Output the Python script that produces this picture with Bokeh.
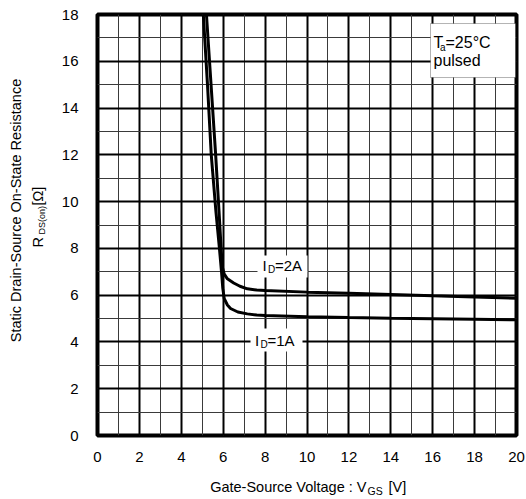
import math
from bokeh.plotting import figure
from bokeh.models import Range1d, SingleIntervalTicker, Label, BoxAnnotation
from bokeh.embed import file_html
from bokeh.resources import INLINE

# Data
vgs_2a = [5.2, 5.42, 5.64, 5.8, 5.9, 5.96, 6.05, 6.2, 6.5, 6.8, 7.15, 7.6, 8.0, 10, 12, 14, 16, 18, 20]
rds_2a = [18, 15, 12, 9.6, 8.0, 7.2, 6.9, 6.7, 6.52, 6.38, 6.27, 6.22, 6.2, 6.13, 6.08, 6.03, 5.97, 5.92, 5.87]

vgs_1a = [5.05, 5.25, 5.43, 5.65, 5.82, 5.92, 5.98, 6.05, 6.2, 6.35, 6.7, 7.15, 7.6, 8.0, 10, 12, 14, 16, 18, 20]
rds_1a = [18, 15, 12, 9.6, 8.0, 7.0, 6.3, 5.85, 5.58, 5.43, 5.28, 5.2, 5.15, 5.13, 5.08, 5.04, 5.01, 4.99, 4.97, 4.95]

x_ticks = list(range(0, 21, 2))
y_ticks = list(range(0, 19, 2))

FONT = "Liberation Sans"

p = figure(width=526, height=499, output_backend="svg", toolbar_location=None, title=None,
           x_range=Range1d(0, 20), y_range=Range1d(0, 18),
           min_border_left=97, min_border_right=10, min_border_top=14, min_border_bottom=64)
p.background_fill_color = "white"
p.border_fill_color = "white"
p.outline_line_color = "black"
p.outline_line_width = 4

p.xaxis.ticker = SingleIntervalTicker(interval=2, num_minor_ticks=2)
p.yaxis.ticker = SingleIntervalTicker(interval=2, num_minor_ticks=2)
for ax in (p.xaxis, p.yaxis):
    ax.axis_line_color = None
    ax.major_tick_line_color = None
    ax.minor_tick_line_color = None
    ax.major_label_text_font = FONT
    ax.major_label_text_font_size = "15px"
    ax.major_label_text_color = "black"
p.xaxis.major_label_standoff = 10
p.yaxis.major_label_standoff = 13

for g in (p.xgrid, p.ygrid):
    g.grid_line_color = "black"
    g.grid_line_width = 2
    g.minor_grid_line_color = "#3a3a3a"
    g.minor_grid_line_width = 1

p.line(vgs_2a, rds_2a, line_color="black", line_width=3)
p.line(vgs_1a, rds_1a, line_color="black", line_width=3)

def px2x(px):
    return (px - 97) / 20.95

def py2y(py):
    return (435 - py) / 23.39

def lab(text, px, py, size="15px", align="left", angle=0.0, place=None):
    l = Label(x=px2x(px), y=py2y(py), text=text, text_font=FONT, text_font_size=size,
              text_align=align, text_baseline="middle", text_color="black", angle=angle)
    if place is None:
        p.add_layout(l)
    else:
        p.add_layout(l, place)

# I_D labels with white boxes
p.add_layout(BoxAnnotation(left=px2x(257), right=px2x(307), top=py2y(255), bottom=py2y(277),
                           fill_color="white", fill_alpha=1, line_color=None))
lab("I", 262, 265)
lab("D", 267.5, 269, size="10px")
lab("=2A", 274.5, 265)

p.add_layout(BoxAnnotation(left=px2x(250), right=px2x(302), top=py2y(328), bottom=py2y(351),
                           fill_color="white", fill_alpha=1, line_color=None))
lab("I", 254.5, 340)
lab("D", 260, 344, size="10px")
lab("=1A", 267, 340)

# Ta box
p.add_layout(BoxAnnotation(left=px2x(430), right=px2x(515), top=py2y(23), bottom=py2y(77),
                           fill_color="white", fill_alpha=1, line_color="black", line_width=1))
lab("T", 433, 42, size="16px")
lab("a", 439.5, 47, size="10px")
lab("=25\u00b0C", 445, 42, size="16px")
lab("pulsed", 433, 60, size="16px")

# x axis title: side panels are used so that the texts are not clipped to the frame
lab("Gate-Source Voltage : V", 366, 487, size="14.5px", align="right", place="below")
lab(" [V]", 388, 487, size="14.5px", place="below")
lab("GS", 367, 491, size="10.5px", place="above")

# y axis title (rotated, in the left side panel)
lab("Static Drain-Source On-State Resistance", 15, 210, size="14.5px", align="center",
    angle=math.pi / 2, place="left")
lab("R", 37, 247, size="14.5px", angle=math.pi / 2, place="left")
lab("DS(on)", 41, 234, size="9px", angle=math.pi / 2, place="left")
lab(" [\u03a9]", 37, 205, size="14.5px", angle=math.pi / 2, place="left")

open("out.html", "w").write(file_html(p, INLINE))
